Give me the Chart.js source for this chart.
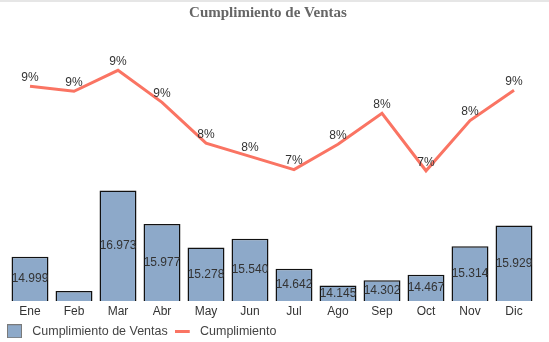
<!DOCTYPE html>
<html>
<head>
<meta charset="utf-8">
<script src="https://cdn.jsdelivr.net/npm/chart.js@4/dist/chart.umd.min.js"></script>
<style>
  html, body { margin: 0; padding: 0; background: #fff; }
  #wrap { position: relative; width: 549px; height: 342px; border-top: 2px solid #e6e6e6; box-sizing: border-box; }
</style>
</head>
<body>
<div id="wrap"><canvas id="c"></canvas></div>
<script>
const categories = ['Ene','Feb','Mar','Abr','May','Jun','Jul','Ago','Sep','Oct','Nov','Dic'];
const ventas = [14.999, 13.980, 16.973, 15.977, 15.278, 15.540, 14.642, 14.145, 14.302, 14.467, 15.314, 15.929];
const cumplimiento = [8.88, 8.79, 9.17, 8.59, 7.85, 7.61, 7.37, 7.83, 8.39, 7.35, 8.26, 8.81];

const BAR_COLOR = '#8DA9C9';
const LINE_COLOR = '#FA7463';

// legend symbols
function makeBoxIcon() {
  const c = document.createElement('canvas');
  c.width = 18; c.height = 14;
  const x = c.getContext('2d');
  x.fillStyle = BAR_COLOR;
  x.fillRect(0, 0, 15, 14);
  x.strokeStyle = '#7a7a7a';
  x.lineWidth = 1;
  x.strokeRect(0.5, 0.5, 14, 13);
  return c;
}
function makeLineIcon() {
  const c = document.createElement('canvas');
  c.width = 18; c.height = 3;
  const x = c.getContext('2d');
  x.fillStyle = LINE_COLOR;
  x.fillRect(0, 0, 15, 3);
  return c;
}
const boxIcon = makeBoxIcon();
const lineIcon = makeLineIcon();

const labelPlugin = {
  id: 'valueLabels',
  afterDatasetsDraw(chart) {
    const ctx = chart.ctx;
    ctx.save();
    ctx.font = '12px "Liberation Sans", Arial, sans-serif';
    ctx.fillStyle = '#333';
    ctx.textAlign = 'center';
    ctx.textBaseline = 'middle';
    const yBar = chart.scales.yBar;
    const base = yBar.getPixelForValue(yBar.min);
    const barMeta = chart.getDatasetMeta(0);
    barMeta.data.forEach((el, i) => {
      const top = yBar.getPixelForValue(ventas[i]);
      const h = base - top;
      if (h < 13) return;
      ctx.fillText(ventas[i].toFixed(3), el.x, (top + base) / 2);
    });
    const yLine = chart.scales.yLine;
    const lineMeta = chart.getDatasetMeta(1);
    lineMeta.data.forEach((el, i) => {
      const py = yLine.getPixelForValue(cumplimiento[i]);
      ctx.fillText(Math.round(cumplimiento[i]) + '%', el.x, py - 8.5);
    });
    ctx.restore();
  }
};

new Chart(document.getElementById('c'), {
  data: {
    labels: categories,
    datasets: [
      {
        type: 'bar',
        label: 'Cumplimiento de Ventas',
        data: ventas,
        backgroundColor: BAR_COLOR,
        borderColor: '#111',
        borderWidth: 1.5,
        barPercentage: 0.84,
        categoryPercentage: 1,
        yAxisID: 'yBar',
        order: 2
      },
      {
        type: 'line',
        label: 'Cumplimiento',
        data: cumplimiento,
        borderColor: LINE_COLOR,
        backgroundColor: LINE_COLOR,
        borderWidth: 3,
        pointRadius: 0,
        tension: 0,
        yAxisID: 'yLine',
        order: 1
      }
    ]
  },
  options: {
    responsive: true,
    maintainAspectRatio: false,
    animation: false,
    layout: { padding: { left: 0, right: 13, top: 0, bottom: -5.5 } },
    plugins: {
      title: {
        display: true,
        text: 'Cumplimiento de Ventas',
        color: '#666',
        font: { family: '"Liberation Serif", "Times New Roman", serif', size: 15, weight: 'bold' },
        padding: { top: 2, bottom: 8 }
      },
      legend: {
        position: 'bottom',
        align: 'start',
        labels: {
          usePointStyle: true,
          pointStyleWidth: 20,
          padding: 6,
          color: '#444',
          font: { family: '"Liberation Sans", Arial, sans-serif', size: 12.5 },
          sort: (a, b) => a.datasetIndex - b.datasetIndex,
          generateLabels(chart) {
            const items = Chart.defaults.plugins.legend.labels.generateLabels(chart);
            items.forEach(it => {
              it.pointStyle = it.datasetIndex === 0 ? boxIcon : lineIcon;
            });
            return items;
          }
        }
      },
      tooltip: { enabled: false }
    },
    scales: {
      x: {
        grid: { display: false, drawTicks: false },
        border: { display: false },
        ticks: { color: '#333', font: { family: '"Liberation Sans", Arial, sans-serif', size: 12 }, padding: 3, maxRotation: 0 },
        afterFit(scale) { scale.height = 18; }
      },
      yBar: {
        display: true,
        position: 'left',
        min: 13.683,
        max: 21.756,
        grid: { display: false, drawTicks: false },
        border: { display: false },
        ticks: { display: false },
        afterFit(scale) { scale.width = 8; }
      },
      yLine: {
        display: false,
        min: 4.991,
        max: 9.9
      }
    }
  },
  plugins: [labelPlugin]
});
</script>
</body>
</html>
